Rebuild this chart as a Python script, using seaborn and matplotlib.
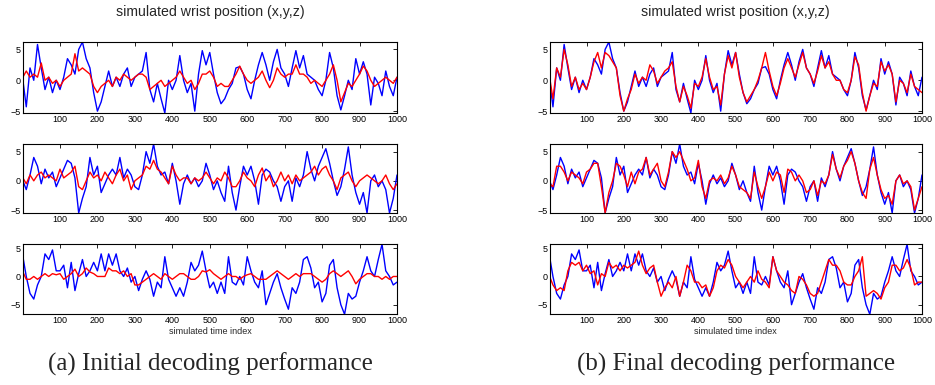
import matplotlib
matplotlib.use("Agg")
import matplotlib.pyplot as plt
import seaborn as sns
import pandas as pd

# time index (sampled)
T = [1] + list(range(10, 1001, 10))

blue_x = [0, -4.3, 2, 0, 5.8, 2, -1.5, 0.5, -2, 0, -1.5,
          0.5, 3.5, 2.5, 1, 5, 6.2, 3.5, 2, -2, -5,
          -3.5, -1, 1.5, -1, 0.5, -1, 1, 2, -1, 0.5,
          1, 1.5, 4.5, -1.5, -3.5, -0.5, -3, -5.3, 0, -1.5,
          0, 4, 0, -2, -0.5, -5, 1, 4.8, 2.5, 4.5,
          1, -2, -3.8, -3, -1.5, -0.5, 2, 2.2, 1, -1.5,
          -3, 0, 2.5, 4.5, 2.5, 0, 3, 5, 2, 1,
          -1, 2, 4.8, 2, 4, 1, 0.5, 0, -1.5, -2.5,
          0, 4.5, 2, -2.5, -4.8, -2.5, 0, -1.5, 3.5, 1,
          3, 1, -4, 0.5, -0.5, -2.5, 1.5, -1, -2.5, 0.5]

red_x_init = [0.5, 1.5, 0.5, 1, 0.5, 2.8, 0, 0.5, -0.5, 0, -1,
              0, 0.5, 1, 4.3, 1.5, 2, 1.5, 1, -1, -2,
              -1, -0.5, 0, -1, 0.5, 0, 1, 0.5, 0, 0.5,
              1, 1, 0.5, -1.5, -1, -0.5, 0, -1, -0.5, 0,
              0.5, 1.5, 0.5, -0.5, 0, -1.5, -0.5, 1, 1, 1.5,
              0.5, -1, -0.5, -1, -1, 0, 1, 2.3, 1, 0,
              -0.5, 0, 0.5, 1.5, 0, -1.2, 0, 2, 1, 0.5,
              1, 1, 2.5, 1, 1, 0.5, -0.5, 0, -0.5, -1,
              0, 1, 2.5, 0, -3.5, -2, -0.5, -1, 0, 1,
              2.3, 1.5, 0, -1, -0.5, 0, 0.5, 0, -0.5, 0.5]

red_x_final = [0.5, -3, 2, 0.5, 5, 2.5, -1, 0.5, -1.5, -0.5, -1.5,
               0.5, 3, 4.5, 2, 4.5, 4, 3, 2, -2.5, -5,
               -3, -1.5, 1, -0.5, 0.5, 0, 2.5, 1.5, -0.5, 0.5,
               1.5, 2, 3, -1, -3.5, -1, -2.5, -4.5, -0.5, -1,
               0.5, 3.5, 0.5, -1.5, -1, -4, 1, 4, 2, 4.5,
               0.5, -2, -3.5, -2.5, -1.5, 0, 2, 4.5, 1.5, -1,
               -2.5, -0.5, 2, 3.5, 2, 0.5, 2.5, 4.5, 2, 1,
               -0.5, 1.5, 4, 2, 3, 1, 0, 0, -1.5, -2,
               0, 3.8, 2.5, -2, -5, -2.5, -0.5, -1, 3, 1.5,
               2.5, 1, -3.5, 0, -0.5, -2, 1, -1, -1.5, -2]

blue_y = [0, -1.5, 1, 4, 2.5, -0.5, 2, 0.5, 1.5, -1, 0.5,
          2, 3.5, 3, 0.5, -5.5, -3, -1, 4, 1, 2.5,
          -2, -0.5, 1, 2, 1, 4, 0.5, 2, 1, -1,
          -1.5, 1, 5, 3, 6.3, 2.5, 1, 1.5, -0.5, 3,
          0, -4, -0.5, 1, -0.5, 0.5, -1, 0, 3, 1,
          -1.5, 0, -2, -3.5, 2.5, -2, -5, -1, 2.5, 1,
          2.5, 0, -4, 1, 2, 1.5, 0, -1, -3.5, -1,
          0, -3.5, 0.5, -1, 1, 5, 2, 0, 2.5, 4,
          5.5, 3, 0, -2.5, -1, 2, 5.8, 1, -2, -4,
          -2, -5.5, 0, 1, -1, 0, -1.5, -5.5, -3, 1]

red_y_init = [0.5, -0.5, 1, 0, 1, 1.5, 0.5, 1, 0.5, 0, 2,
              0.5, 1, 1.5, 2.5, -1, -1.5, 0, 1.5, 0.5, 1,
              0, 1.5, 0.5, -0.5, 1, 2, 0, 1, -1.5, 0,
              0.5, 1, 2.5, 2, 3.5, 2, 1.5, 0.5, -0.5, 2.5,
              1, 0, 0.5, 0.5, -0.5, 0.5, 0, 0.5, 1.5, 0.5,
              -0.5, 0.5, 0, 1.5, 0.5, -1, -1, 0, 1.5, 0.5,
              0, -1, 1, 2.2, 0, 1, -1, 0, 1.5, 0,
              1, -0.5, 1, 0, 0.5, 1, 1.5, 2.5, 1, 2,
              2.5, 1, 0, -1.5, 0.5, 1, 1.5, 0, -1, 0,
              0.5, 1, 0.5, 0, -0.5, 0, 1, -0.5, -1.5, -0.5]

red_y_final = [-0.5, -1, 2.5, 2.5, 1.5, 0, 1.5, 1, 0.5, -0.5, 1.5,
               2, 3, 3, -1, -5.5, -2, 0, 3, 2.5, 1,
               -1, 1.5, -0.5, 1.5, 2, 4, 1, 2, 3, 0,
               -1, 1.5, 5, 4, 5, 3.5, 2, 0, 0.5, 3.5,
               -1, -3, 0, 0.5, 0, 1, -0.5, 0.5, 2.5, 1,
               -1, -1.5, -2, -3, 1.5, -1, -3, -1, 1.5, 0,
               1.5, 1, -2, 2, 1.5, 0, 1, 0, -2, -1.5,
               0, -2.5, 0, -0.5, 1, 4.5, 2, 0.5, 2.5, 3.5,
               5, 3, 0, -2, -3, 2, 4, 1, -1.5, -3,
               -2.5, -4, 0, 1, -0.5, 0, -1, -5, -3, -1]

blue_z = [3.5, 0, -3, -4, -1.5, 0, 4, 3, 4.7, 1, 1,
          2, -2, 2.5, -2.5, 0.5, 3, 0, 1, 2.5, 1,
          4, 1, 4, 2, 4, 1, 0, 1.5, -1, 0,
          -2.5, -0.5, 1, -0.5, -3.5, -1, -2, 3.5, -0.5, -2,
          -3.5, -2, -3.5, -1, 2.5, 1, 2, 4.5, 1, -2,
          -1, -3, -1, -3, 3.5, -1, -1.5, 0, -1.5, 3.5,
          1, -1, -2, 1, -5, -3, -1, 0.5, -2, -4,
          -5.8, -2, -3, -1, 3, 3.5, 1.5, -2, -1, -4.5,
          -3, 2, 3, -2, -5, -6.7, -3, -4, -3.5, -1,
          1, 3.5, 1, 0, 3, 5.7, 1, 0, -1.5, -1]

red_z_init = [0.8, -0.5, -0.5, 0, -0.5, 0, 0.5, 0, 0.5, 0.3, 0.5,
              -0.5, 0, 0.5, 1.3, 0, 0.5, 1.5, 0.8, 0.5, 0,
              0, 0, 1.5, 1, 1, 0.5, 1, 0, 0.5, -1.5,
              -1.5, -1, -0.5, 0, 0.5, 0, -0.5, 0.5, 0, -0.5,
              0, 0.5, 0.5, 0, -0.5, -0.5, 0, 1, 0.8, 1.2,
              0.5, 0, -0.5, 0, 0.5, 0, 0, -0.5, 0, 0.3,
              0.5, 0, -0.5, -0.5, -0.5, 0, 0.5, 1, 0.5, 0,
              -0.5, 0, 0.5, 0, 0.5, 0.5, 0.5, 0, -0.5, -1,
              -0.5, 0.5, 1, 0.5, 0, 0.5, 1, 0, -1.3, -0.5,
              0, 0.5, 0.5, 0, 0, -0.5, 0, -0.5, 0, 0]

red_z_final = [0, -1.5, -2.5, -2, -2.5, 1, 2.5, 2, 2.5, 1, 2,
               0.5, 1, -1.5, 0.5, 0, 2.5, 1.5, 2, 1, 2,
               1.5, 2, 2.5, 4.5, 2, 0.5, 1.5, 2, -1, -3.5,
               -2, -1, -2, 0, -3.5, -1, 2, 1, -1, -1,
               -2, -1.5, -3.5, -2, 1, 2, 1.5, 3, 2, 0,
               -1, -2, -1, 0, -1, 1, -0.5, -1, -2, 3.5,
               1, 0, -1, -1.5, -2.5, -3, 0, -0.5, -1.5, -3,
               -3.5, -3, -1, 1, 3, 2, 2, 1, -1, -1.5,
               -1.5, 0, 1, 3.5, -3.5, -3, -2.5, -3, -4, -2,
               -1, 2, 2, 1, 1.5, 3, 1.5, -1.5, -1, -1]

x_ticks = [100, 200, 300, 400, 500, 600, 700, 800, 900, 1000]
y_ticks = [-5, 0, 5]
panel_title = "simulated wrist position (x,y,z)"
x_label = "simulated time index"
captions = ["(a) Initial decoding performance", "(b) Final decoding performance"]

rows = [
    (blue_x, red_x_init, red_x_final),
    (blue_y, red_y_init, red_y_final),
    (blue_z, red_z_init, red_z_final),
]

sns.set_theme(style="white")
plt.rcParams["font.family"] = ["Liberation Sans", "DejaVu Sans"]

W, H = 935, 385
fig = plt.figure(figsize=(W / 100, H / 100), dpi=100)

col_x = [(22.9, 397.0), (549.6, 922.0)]
row_y = [(42.0, 113.0), (144.0, 213.0), (244.3, 314.3)]

for c in range(2):
    for r in range(3):
        blue, red_init, red_final = rows[r]
        red = red_init if c == 0 else red_final
        x0, x1 = col_x[c]
        y0, y1 = row_y[r]
        ax = fig.add_axes([x0 / W, 1 - y1 / H, (x1 - x0) / W, (y1 - y0) / H])
        df = pd.DataFrame({"t": T, "blue": blue, "red": red})
        sns.lineplot(data=df, x="t", y="blue", ax=ax, color=(0, 0, 1), lw=1.0,
                     estimator=None, legend=False)
        sns.lineplot(data=df, x="t", y="red", ax=ax, color=(1, 0, 0), lw=1.0,
                     estimator=None, legend=False)
        lo = min(min(blue), min(red_init), min(red_final))
        hi = max(max(blue), max(red_init), max(red_final))
        ax.set_xlim(1, 1000)
        ax.set_ylim(lo, hi)
        ax.set_xticks(x_ticks)
        ax.set_yticks(y_ticks)
        ax.set_yticklabels([str(v).replace("-", "\u2212") for v in y_ticks])
        ax.set_ylabel("")
        ax.set_xlabel(x_label if r == 2 else "", fontsize=6.5, labelpad=1)
        ax.tick_params(direction="in", length=3, width=0.6, top=True, right=True,
                       labelsize=6.5, pad=1.5, colors="black")
        for s in ax.spines.values():
            s.set_visible(True)
            s.set_color("black")
            s.set_linewidth(0.8)
        ax.grid(False)

# titles
fig.text((22.9 + 397) / 2 / W, 1 - 12 / H, panel_title, ha="center", va="center", fontsize=10.2)
fig.text((549.6 + 922) / 2 / W, 1 - 12 / H, panel_title, ha="center", va="center", fontsize=10.2)

# captions
for c, cap in enumerate(captions):
    cx = (col_x[c][0] + col_x[c][1]) / 2 / W
    fig.text(cx, 1 - 364 / H, cap, ha="center", va="center", fontsize=18,
             family=["Liberation Serif", "DejaVu Serif"])

fig.savefig("out.png", dpi=100)
